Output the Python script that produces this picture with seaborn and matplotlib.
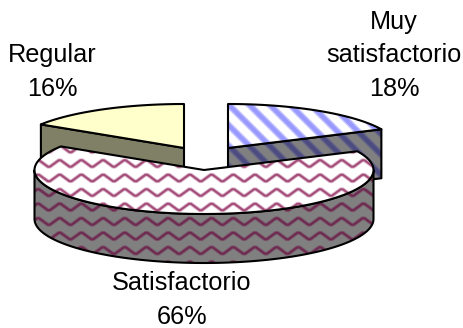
import numpy as np
import matplotlib
matplotlib.use("Agg")
import matplotlib.pyplot as plt
from matplotlib.patches import Polygon
import seaborn as sns

sns.set_theme(style="white")
plt.rcParams["font.family"] = ["Liberation Sans", "DejaVu Sans"]

# Survey shares, clockwise from twelve o'clock
categories = ["Muy\nsatisfactorio", "Satisfactorio", "Regular"]
shares = [18, 66, 16]

A, B, DEPTH = 169.5, 44, 49

angles = np.cumsum([0] + shares) / sum(shares) * 360
fig = plt.figure(figsize=(4.63, 3.28), dpi=100)
ax = fig.add_axes([0, 0, 1, 1])
ax.set_xlim(0, 463)
ax.set_ylim(328, 0)
ax.axis("off")


def rim(cx, cy, a0, a1, n=120):
    t = np.radians(np.linspace(a0, a1, n))
    return np.column_stack([cx + A * np.sin(t), cy - B * np.cos(t)])


def face(points, fill, z):
    p = Polygon(points, closed=True, facecolor=fill, edgecolor="none", zorder=z)
    ax.add_patch(p)
    return p


def edge(points, z):
    ax.add_patch(Polygon(points, closed=True, fill=False, edgecolor="black", lw=1.5, zorder=z, joinstyle="round"))


def stripes(patch, colour, soft, z):
    # diagonal bands running down to the right, with a soft fringe
    for x0 in np.arange(-204, 520, 20.5):
        for c, w in ((soft, 5.0), (colour, 3.0)):
            line, = ax.plot([x0, x0 + 340], [0, 340], color=c, lw=w, zorder=z, solid_capstyle="butt")
            line.set_clip_path(patch)


def waves(patch, colour, soft, z):
    # rows of small flattened zigzags
    x = np.linspace(0, 463, 1800)
    ripple = np.clip(np.arcsin(np.sin(2 * np.pi * x / 21.7)) / (np.pi / 2) * 1.25, -1, 1)
    for y0 in np.arange(91, 280, 14.5):
        for c, w in ((soft, 2.8), (colour, 1.5)):
            line, = ax.plot(x, y0 + 3.2 * ripple, color=c, lw=w, zorder=z)
            line.set_clip_path(patch)


# Regular, left slice
cx, cy = 184, 148
a0, a1 = angles[2], angles[3]
corner = rim(cx, cy, a0, a0, 1)[0]
pts = [corner, corner + [0, DEPTH], [cx, cy + DEPTH], [cx, cy]]
face(pts, "#808066", 1)
edge(pts, 1.6)
top_pts = np.vstack([[[cx, cy]], rim(cx, cy, a0, a1)])
face(top_pts, "#ffffcc", 2)
edge(top_pts, 2.6)

# Muy satisfactorio, right slice
cx, cy = 228, 148
a0, a1 = angles[0], angles[1]
corner = rim(cx, cy, a1, a1, 1)[0]
pts = [[cx, cy], [cx, cy + DEPTH], corner + [0, DEPTH], corner]
side = face(pts, "#808080", 1)
stripes(side, "#4c4c80", "#66668a", 1.5)
edge(pts, 1.6)
top_pts = np.vstack([[[cx, cy]], rim(cx, cy, a0, a1)])
top = face(top_pts, "white", 2)
stripes(top, "#9999ff", "#c4c4ff", 2.5)
edge(top_pts, 2.6)

# Satisfactorio, pulled towards the viewer
cx, cy = 204, 170
a0, a1 = angles[1], angles[2]
lower = rim(cx, cy, 90, 270)
side_pts = np.vstack([lower, lower[::-1] + [0, DEPTH]])
side = face(side_pts, "#808080", 3)
waves(side, "#6e2a50", "#7a5a6c", 3.5)
edge(side_pts, 3.6)
top_pts = np.vstack([[[cx, cy]], rim(cx, cy, a0, a1)])
top = face(top_pts, "white", 4)
waves(top, "#a54d7a", "#dcb8cb", 4.5)
edge(top_pts, 4.6)

# Category labels with their shares
positions = [(394, 55), (182, 300), (52, 72)]
for name, share, (x, y) in zip(categories, shares, positions):
    ax.text(x, y, f"{name}\n{share}%", ha="center", va="center", fontsize=18.2, color="black", linespacing=1.5, zorder=6)

fig.savefig("out.png", dpi=100, facecolor="white")
